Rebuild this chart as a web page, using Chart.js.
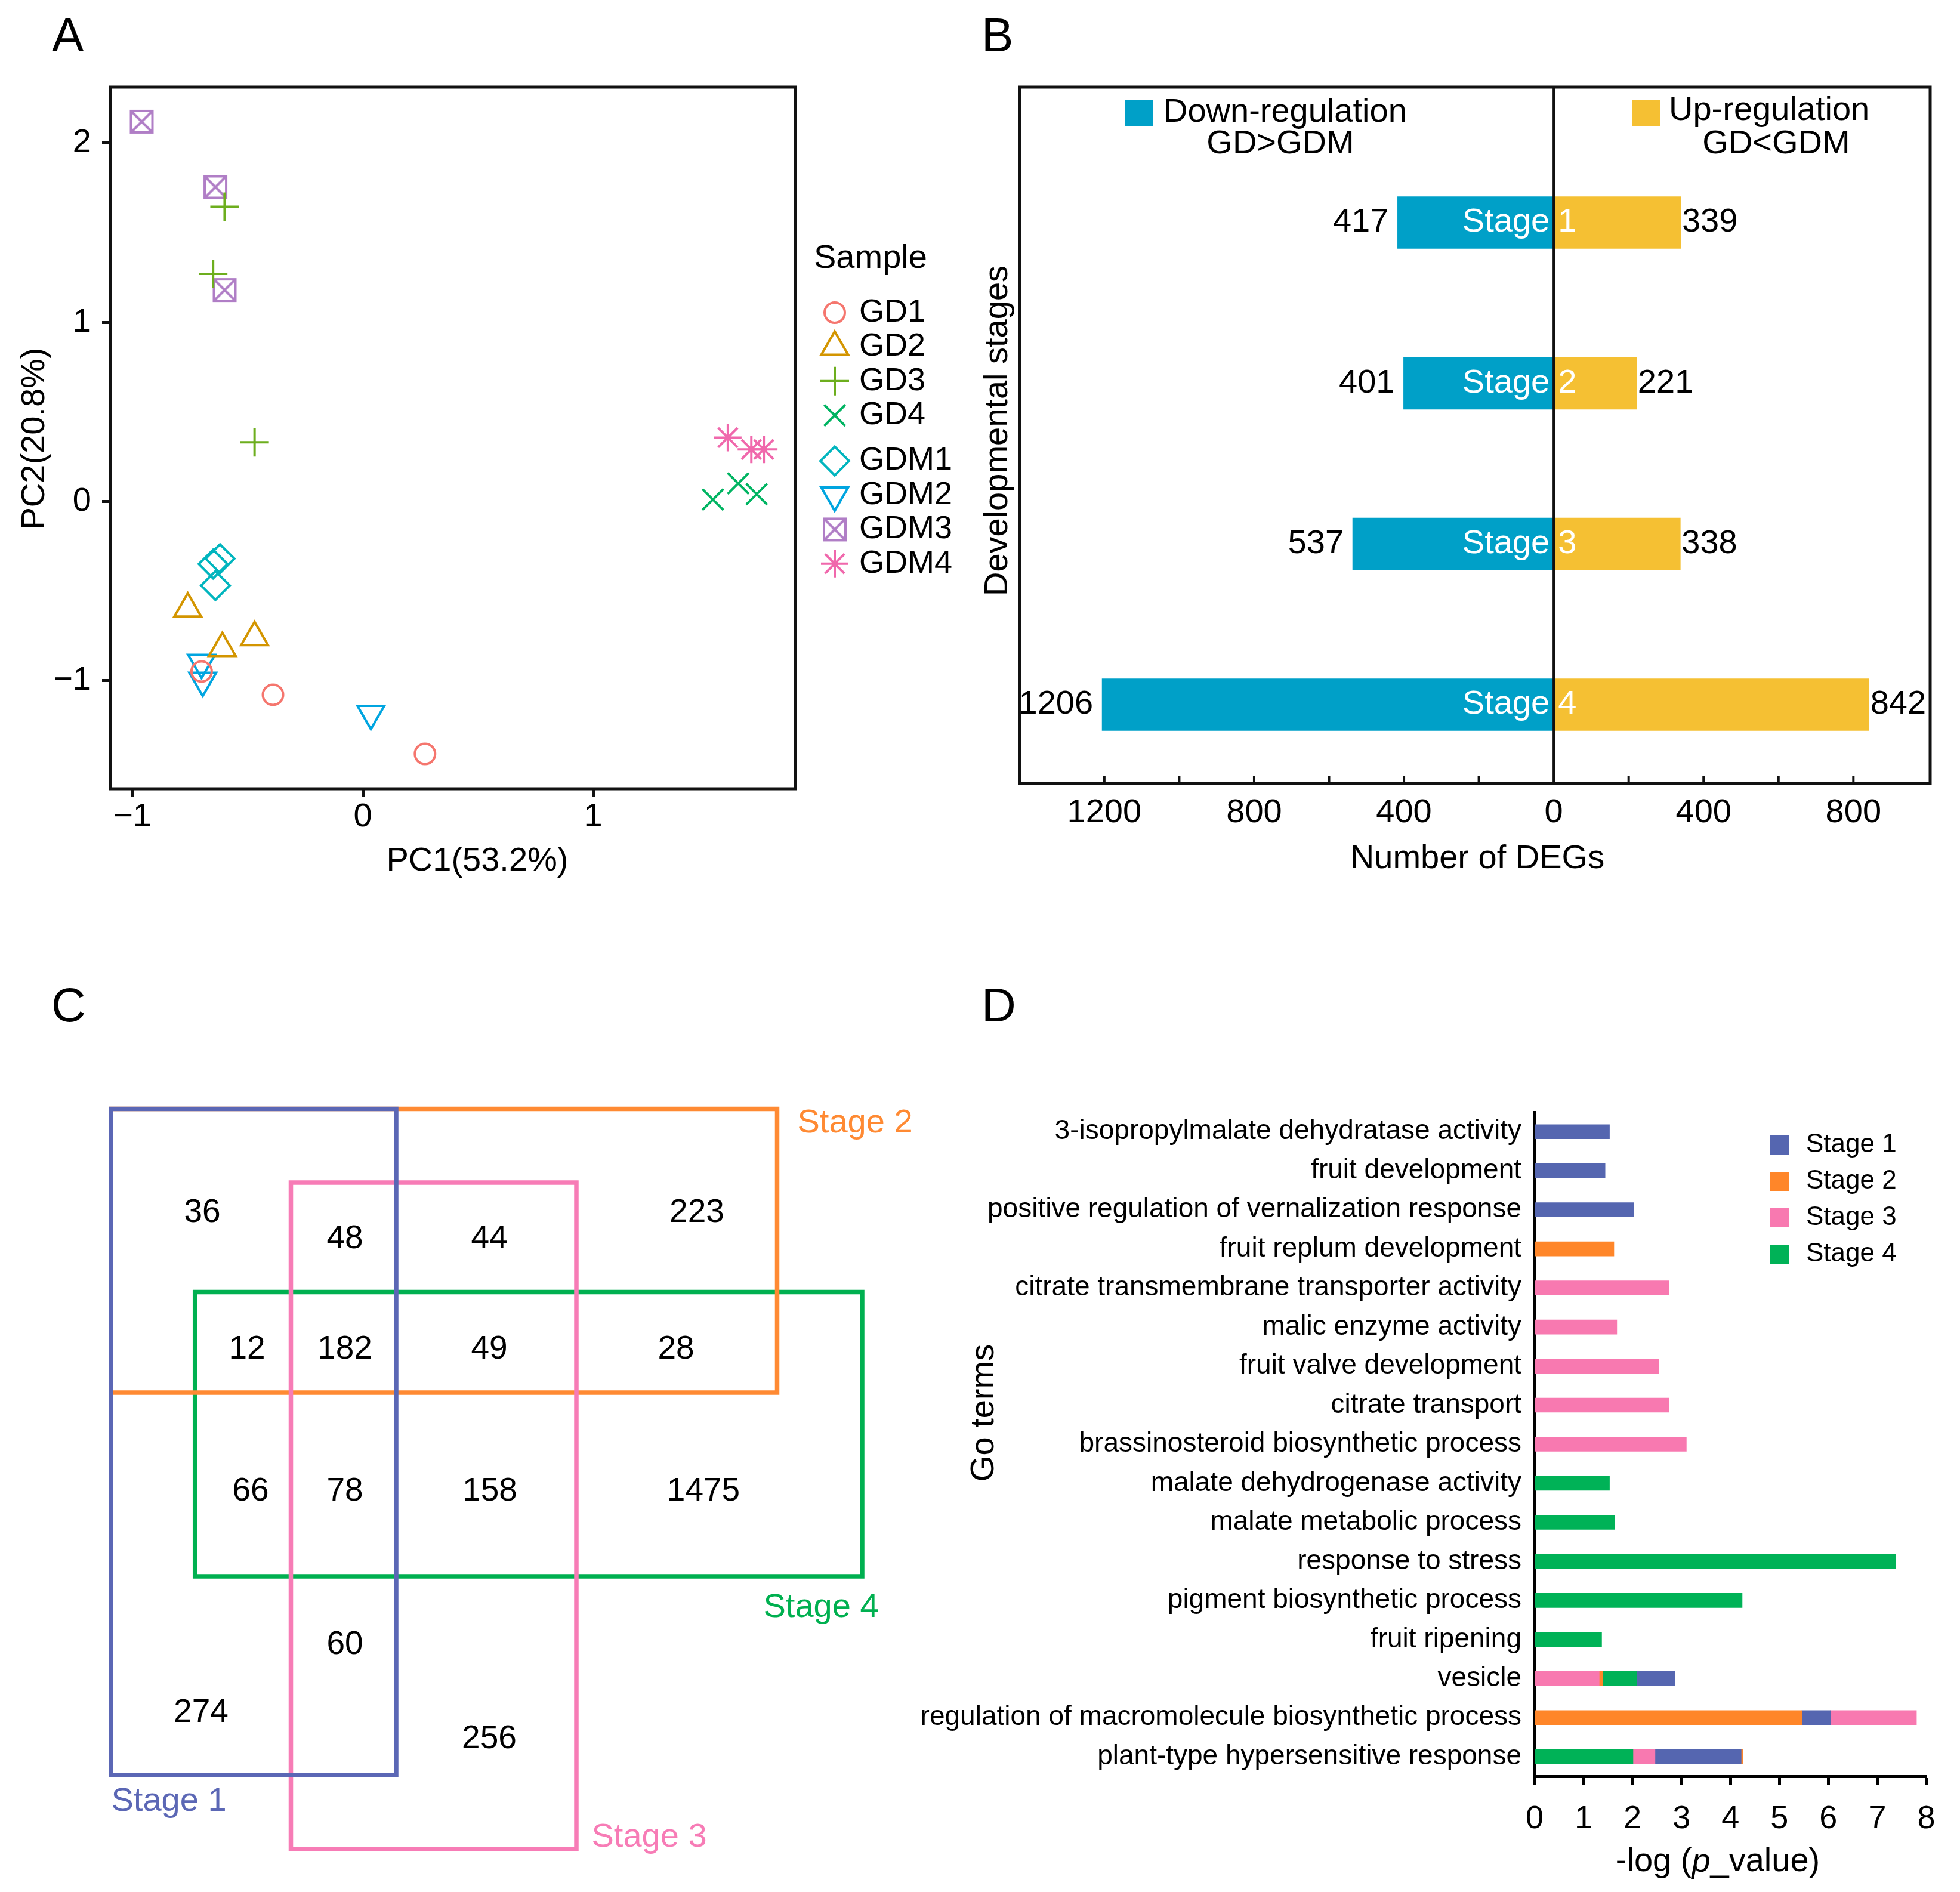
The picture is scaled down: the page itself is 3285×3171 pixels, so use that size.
<!DOCTYPE html>
<html lang="en">
<head>
<meta charset="UTF-8">
<title>PCA, DEGs, Venn and GO terms</title>
<script src="https://cdn.jsdelivr.net/npm/chart.js"></script>
<style>
    body { margin: 0; background: #fff; }
    #page { position: relative; width: 3285px; height: 3171px; background: #fff; overflow: hidden; }
    canvas { position: absolute; }
    .tag { position: absolute; font-family: 'Liberation Sans', Arial, sans-serif; font-size: 80px; line-height: 1; color: #000; }
</style>
</head>
<body>
<div id="page">
    <canvas id="pcaChart" style="left:0;top:0" width="1650" height="1500"></canvas>
    <canvas id="degChart" style="left:1600px;top:0" width="1685" height="1500"></canvas>
    <canvas id="vennChart" style="left:0;top:1600px" width="1650" height="1571"></canvas>
    <canvas id="goChart" style="left:1500px;top:1800px" width="1785" height="1371"></canvas>
    <div class="tag" style="left:87px;top:19px">A</div>
    <div class="tag" style="left:1645px;top:19px">B</div>
    <div class="tag" style="left:86px;top:1645px">C</div>
    <div class="tag" style="left:1645px;top:1645px">D</div>
</div>

<script>
    // ---- A: PCA ----
    const sampleNames = ['GD1', 'GD2', 'GD3', 'GD4', 'GDM1', 'GDM2', 'GDM3', 'GDM4'];
    const gd1PC1 = [-0.70, -0.39, 0.27];
    const gd1PC2 = [-0.95, -1.08, -1.41];
    const gd2PC1 = [-0.76, -0.61, -0.47];
    const gd2PC2 = [-0.60, -0.82, -0.76];
    const gd3PC1 = [-0.60, -0.65, -0.47];
    const gd3PC2 = [1.645, 1.27, 0.33];
    const gd4PC1 = [1.52, 1.63, 1.71];
    const gd4PC2 = [0.01, 0.10, 0.04];
    const gdm1PC1 = [-0.62, -0.65, -0.64];
    const gdm1PC2 = [-0.32, -0.35, -0.47];
    const gdm2PC1 = [-0.70, -0.695, 0.035];
    const gdm2PC2 = [-0.90, -1.00, -1.185];
    const gdm3PC1 = [-0.96, -0.64, -0.60];
    const gdm3PC2 = [2.12, 1.755, 1.18];
    const gdm4PC1 = [1.585, 1.687, 1.741];
    const gdm4PC2 = [0.356, 0.29, 0.29];

    // ---- B: DEGs per stage ----
    const stageNumbers = ['1', '2', '3', '4'];
    const stagePosition = [1, 2, 3, 4];
    const downCounts = [417, 401, 537, 1206];
    const upCounts = [339, 221, 338, 842];
    const degTicks = [-1200, -1000, -800, -600, -400, -200, 0, 200, 400, 600, 800];

    // ---- C: Venn boxes [x0, y0, x1, y1] in diagram units ----
    const stage1Box = [18.6, 25.85, 66.4, 137.5];
    const stage2Box = [18.6, 25.85, 130.25, 73.4];
    const stage3Box = [48.75, 38.2, 96.6, 149.9];
    const stage4Box = [32.67, 56.56, 144.5, 104.2];
    const vennCounts = ['36', '48', '44', '223', '12', '182', '49', '28', '66', '78', '158', '1475', '60', '274', '256'];
    const vennCountX = [33.9, 57.8, 82.0, 116.8, 41.4, 57.8, 82.0, 113.3, 42.0, 57.8, 82.1, 117.9, 57.8, 33.7, 82.0];
    const vennCountY = [43.3, 47.7, 47.7, 43.3, 66.2, 66.2, 66.2, 66.2, 90.0, 90.0, 90.0, 90.0, 115.7, 127.1, 131.5];
    const vennNames = ['Stage 1', 'Stage 2', 'Stage 3', 'Stage 4'];
    const vennNameX = [28.3, 143.3, 108.8, 137.6];
    const vennNameY = [142.0, 28.3, 148.0, 109.5];

    // ---- D: GO terms, stacked segments (stage, -log p) ----
    const goTerms = [
        '3-isopropylmalate dehydratase activity', 'fruit development',
        'positive regulation of vernalization response', 'fruit replum development',
        'citrate transmembrane transporter activity', 'malic enzyme activity',
        'fruit valve development', 'citrate transport', 'brassinosteroid biosynthetic process',
        'malate dehydrogenase activity', 'malate metabolic process', 'response to stress',
        'pigment biosynthetic process', 'fruit ripening', 'vesicle',
        'regulation of macromolecule biosynthetic process', 'plant-type hypersensitive response'
    ];
    const seg1Stage = [1, 1, 1, 2, 3, 3, 3, 3, 3, 4, 4, 4, 4, 4, 3, 2, 4];
    const seg1Value = [1.53, 1.44, 2.02, 1.62, 2.75, 1.68, 2.54, 2.75, 3.10, 1.53, 1.64, 7.37, 4.24, 1.37, 1.32, 5.46, 2.01];
    const seg2Stage = [0, 0, 0, 0, 0, 0, 0, 0, 0, 0, 0, 0, 0, 0, 2, 1, 3];
    const seg2Value = [null, null, null, null, null, null, null, null, null, null, null, null, null, null, 0.07, 0.58, 0.45];
    const seg3Stage = [0, 0, 0, 0, 0, 0, 0, 0, 0, 0, 0, 0, 0, 0, 4, 3, 1];
    const seg3Value = [null, null, null, null, null, null, null, null, null, null, null, null, null, null, 0.70, 1.76, 1.76];
    const seg4Stage = [0, 0, 0, 0, 0, 0, 0, 0, 0, 0, 0, 0, 0, 0, 1, 0, 2];
    const seg4Value = [null, null, null, null, null, null, null, null, null, null, null, null, null, null, 0.77, null, 0.03];
    const stageLegend = ['Stage 1', 'Stage 2', 'Stage 3', 'Stage 4'];

    const FONT = "'Liberation Sans', Arial, sans-serif";
    Chart.defaults.font.family = FONT;
    Chart.defaults.color = '#000';
    Chart.defaults.animation = false;
    Chart.defaults.responsive = false;
    Chart.defaults.devicePixelRatio = 1;
    Chart.defaults.plugins.legend.display = false;
    Chart.defaults.plugins.tooltip.enabled = false;

    function text(ctx, str, x, y, opt = {}) {
        ctx.save();
        ctx.font = `${opt.style || 'normal'} ${opt.size || 56}px ${FONT}`;
        ctx.fillStyle = opt.color || '#000';
        ctx.textAlign = opt.align || 'center';
        ctx.textBaseline = 'middle';
        if (opt.rotate) {
            ctx.translate(x, y);
            ctx.rotate(-Math.PI / 2);
            ctx.fillText(str, 0, 0);
        } else {
            ctx.fillText(str, x, y);
        }
        ctx.restore();
    }

    const framePlugin = {
        id: 'frame',
        afterDraw(chart) {
            const {ctx, chartArea: a} = chart;
            ctx.save();
            ctx.strokeStyle = '#111';
            ctx.lineWidth = 5;
            ctx.strokeRect(a.left, a.top, a.right - a.left, a.bottom - a.top);
            ctx.restore();
        }
    };

    const minus = v => (v < 0 ? '\u2212' + Math.abs(v) : String(v));

    // ---------- A ----------
    function boxedCross(color) {
        const c = document.createElement('canvas');
        c.width = 46;
        c.height = 46;
        const g = c.getContext('2d');
        g.strokeStyle = color;
        g.lineWidth = 4;
        g.strokeRect(5, 5, 36, 36);
        g.beginPath();
        g.moveTo(5, 5); g.lineTo(41, 41);
        g.moveTo(41, 5); g.lineTo(5, 41);
        g.stroke();
        return c;
    }

    const sampleColors = ['#F5766E', '#D39500', '#6DAE1E', '#00B462', '#00B5BE', '#00A5E0', '#B07EC6', '#F068AC'];
    const markers = [
        {style: 'circle', radius: 17, rotation: 0},
        {style: 'triangle', radius: 26, rotation: 0},
        {style: 'cross', radius: 24, rotation: 0},
        {style: 'crossRot', radius: 25, rotation: 0},
        {style: 'rectRot', radius: 24, rotation: 0},
        {style: 'triangle', radius: 26, rotation: 180},
        {style: boxedCross(sampleColors[6]), radius: 23, rotation: 0},
        {style: 'star', radius: 23, rotation: 0}
    ];
    const pcaX = [gd1PC1, gd2PC1, gd3PC1, gd4PC1, gdm1PC1, gdm2PC1, gdm3PC1, gdm4PC1];
    const pcaY = [gd1PC2, gd2PC2, gd3PC2, gd4PC2, gdm1PC2, gdm2PC2, gdm3PC2, gdm4PC2];

    const pcaLegend = {
        id: 'pcaLegend',
        afterDraw(chart) {
            const ctx = chart.ctx;
            text(ctx, 'Sample', 1364, 434, {align: 'left', size: 56});
            sampleNames.forEach((name, i) => {
                const y = 524 + i * 57.4 + (i >= 4 ? 19 : 0);
                ctx.save();
                ctx.strokeStyle = sampleColors[i];
                ctx.fillStyle = 'rgba(0,0,0,0)';
                ctx.lineWidth = 4;
                Chart.helpers.drawPoint(ctx, {
                    pointStyle: markers[i].style, rotation: markers[i].rotation,
                    radius: markers[i].radius, borderWidth: 4
                }, 1399, y);
                ctx.restore();
                text(ctx, name, 1440, y, {align: 'left', size: 54});
            });
            text(ctx, 'PC1(53.2%)', 800, 1444);
            text(ctx, 'PC2(20.8%)', 59, 735, {rotate: true});
        }
    };

    new Chart(document.getElementById('pcaChart'), {
        type: 'scatter',
        data: {
            datasets: sampleNames.map((name, i) => ({
                label: name,
                data: pcaX[i].map((x, j) => ({x, y: pcaY[i][j]})),
                pointStyle: markers[i].style,
                pointRotation: markers[i].rotation,
                pointRadius: markers[i].radius,
                pointBorderWidth: 4,
                borderColor: sampleColors[i],
                backgroundColor: 'rgba(0,0,0,0)'
            }))
        },
        options: {
            layout: {padding: {top: 146, right: 317, bottom: 0, left: 0}},
            scales: {
                x: {
                    type: 'linear', min: -1.096, max: 1.878,
                    afterFit: s => { s.height = 178; },
                    ticks: {stepSize: 1, includeBounds: false, font: {size: 56}, padding: 0, callback: minus},
                    grid: {drawOnChartArea: false, tickLength: 14, tickWidth: 5, tickColor: '#111'},
                    border: {display: false}
                },
                y: {
                    type: 'linear', min: -1.605, max: 2.313,
                    afterFit: s => { s.width = 185; },
                    ticks: {stepSize: 1, includeBounds: false, font: {size: 56}, padding: 18, callback: minus},
                    grid: {drawOnChartArea: false, tickLength: 14, tickWidth: 5, tickColor: '#111'},
                    border: {display: false}
                }
            }
        },
        plugins: [framePlugin, pcaLegend]
    });

    // ---------- B ----------
    const downColor = '#00A0C8';
    const upColor = '#F5C033';

    const degDecor = {
        id: 'degDecor',
        afterDatasetsDraw(chart) {
            const {ctx, chartArea: a, scales: {x}} = chart;
            ctx.save();
            ctx.strokeStyle = '#111';
            ctx.lineWidth = 4;
            x.ticks.forEach(t => {
                if (t.value === 0) return;
                const px = x.getPixelForValue(t.value);
                ctx.beginPath();
                ctx.moveTo(px, a.bottom);
                ctx.lineTo(px, a.bottom - 12);
                ctx.stroke();
            });
            const zero = x.getPixelForValue(0);
            ctx.beginPath();
            ctx.moveTo(zero, a.top);
            ctx.lineTo(zero, a.bottom);
            ctx.stroke();
            ctx.restore();

            chart.getDatasetMeta(0).data.forEach((bar, i) => {
                text(ctx, String(downCounts[i]), bar.x - 15, bar.y, {align: 'right'});
                text(ctx, 'Stage', bar.base - 7, bar.y, {align: 'right', color: '#fff'});
            });
            chart.getDatasetMeta(1).data.forEach((bar, i) => {
                text(ctx, String(upCounts[i]), bar.x + 2, bar.y, {align: 'left'});
                text(ctx, stageNumbers[i], bar.base + 7, bar.y, {align: 'left', color: '#fff'});
            });

            ctx.fillStyle = downColor;
            ctx.fillRect(286, 168, 47, 44);
            ctx.fillStyle = upColor;
            ctx.fillRect(1135, 168, 47, 44);
            text(ctx, 'Down-regulation', 350, 189, {align: 'left'});
            text(ctx, 'GD>GDM', 546, 242);
            text(ctx, 'Up-regulation', 1197, 186, {align: 'left'});
            text(ctx, 'GD<GDM', 1377, 242);
            text(ctx, 'Number of DEGs', 876, 1440);
            text(ctx, 'Developmental stages', 73, 722, {rotate: true});
        }
    };

    new Chart(document.getElementById('degChart'), {
        type: 'bar',
        data: {
            datasets: [
                {
                    label: 'Down-regulation',
                    data: stagePosition.map((p, i) => ({x: -downCounts[i], y: p})),
                    backgroundColor: downColor, barThickness: 87, borderWidth: 0
                },
                {
                    label: 'Up-regulation',
                    data: stagePosition.map((p, i) => ({x: upCounts[i], y: p})),
                    backgroundColor: upColor, barThickness: 87, borderWidth: 0
                }
            ]
        },
        options: {
            indexAxis: 'y',
            layout: {padding: {left: 109, top: 146, right: 50, bottom: 0}},
            scales: {
                x: {
                    type: 'linear', stacked: true, min: -1426, max: 1005,
                    afterFit: s => { s.height = 187; },
                    afterBuildTicks: s => { s.ticks = degTicks.map(v => ({value: v})); },
                    ticks: {
                        autoSkip: false, maxRotation: 0, font: {size: 56}, padding: 16,
                        callback: v => (v % 400 === 0 ? String(Math.abs(v)) : '')
                    },
                    grid: {display: false, drawTicks: false},
                    border: {display: false}
                },
                y: {
                    type: 'linear', stacked: true, reverse: true, offset: false,
                    min: 0.157, max: 4.49, display: false
                }
            }
        },
        plugins: [framePlugin, degDecor]
    });

    // ---------- C ----------
    const vennColors = ['#5B67B5', '#FF8A33', '#F77CB6', '#00B050'];
    const vennBoxes = [stage1Box, stage2Box, stage3Box, stage4Box];
    const vennOrder = [0, 2, 1, 3];
    const boxPath = b => [
        {x: b[0], y: b[1]}, {x: b[2], y: b[1]}, {x: b[2], y: b[3]}, {x: b[0], y: b[3]}, {x: b[0], y: b[1]}
    ];

    const vennText = {
        id: 'vennText',
        afterDatasetsDraw(chart) {
            const ctx = chart.ctx;
            chart.getDatasetMeta(4).data.forEach((pt, i) => text(ctx, vennCounts[i], pt.x, pt.y, {size: 55}));
            chart.getDatasetMeta(5).data.forEach((pt, i) => text(ctx, vennNames[i], pt.x, pt.y, {color: vennColors[i]}));
        }
    };

    new Chart(document.getElementById('vennChart'), {
        type: 'scatter',
        data: {
            datasets: [
                ...vennBoxes.map((b, i) => ({
                    label: vennNames[i],
                    data: boxPath(b),
                    showLine: true,
                    pointRadius: 0,
                    borderColor: vennColors[i],
                    borderWidth: 7.5,
                    borderCapStyle: 'square',
                    borderJoinStyle: 'miter',
                    order: vennOrder[i]
                })),
                {label: 'counts', data: vennCountX.map((x, i) => ({x, y: vennCountY[i]})), pointRadius: 0, order: 10},
                {label: 'names', data: vennNameX.map((x, i) => ({x, y: vennNameY[i]})), pointRadius: 0, order: 11}
            ]
        },
        options: {
            layout: {padding: 0},
            scales: {
                x: {type: 'linear', min: 0, max: 165, display: false},
                y: {type: 'linear', min: 0, max: 157.1, reverse: true, display: false}
            }
        },
        plugins: [vennText]
    });

    // ---------- D ----------
    const stageColors = ['#5566B0', '#FF8629', '#F879B0', '#00B257'];
    const goLayers = [
        {stage: seg1Stage, value: seg1Value},
        {stage: seg2Stage, value: seg2Value},
        {stage: seg3Stage, value: seg3Value},
        {stage: seg4Stage, value: seg4Value}
    ];

    const goDecor = {
        id: 'goDecor',
        afterDraw(chart) {
            const ctx = chart.ctx;
            stageLegend.forEach((name, i) => {
                const y = 119 + i * 61;
                ctx.fillStyle = stageColors[i];
                ctx.fillRect(1466, y - 16, 33, 32);
                text(ctx, name, 1527, y, {align: 'left', size: 44});
            });
            text(ctx, 'Go terms', 150, 568, {rotate: true});
            const runs = [
                {t: '-log (', style: 'normal'},
                {t: 'p', style: 'italic'},
                {t: '_value)', style: 'normal'}
            ];
            ctx.save();
            let total = 0;
            runs.forEach(r => {
                ctx.font = `${r.style} 56px ${FONT}`;
                r.w = ctx.measureText(r.t).width;
                total += r.w;
            });
            let x = 1379 - total / 2;
            ctx.fillStyle = '#000';
            ctx.textAlign = 'left';
            ctx.textBaseline = 'middle';
            runs.forEach(r => {
                ctx.font = `${r.style} 56px ${FONT}`;
                ctx.fillText(r.t, x, 1321);
                x += r.w;
            });
            ctx.restore();
        }
    };

    new Chart(document.getElementById('goChart'), {
        type: 'bar',
        data: {
            labels: goTerms,
            datasets: goLayers.map((layer, k) => ({
                label: 'segment ' + (k + 1),
                data: layer.value,
                backgroundColor: layer.stage.map(s => (s ? stageColors[s - 1] : 'rgba(0,0,0,0)')),
                borderWidth: 0,
                barThickness: 24
            }))
        },
        options: {
            indexAxis: 'y',
            layout: {padding: {top: 64, right: 56.5, left: 0, bottom: 0}},
            scales: {
                x: {
                    stacked: true, min: 0, max: 8,
                    afterFit: s => { s.height = 194; },
                    ticks: {stepSize: 1, font: {size: 54}, padding: 25, maxRotation: 0},
                    grid: {drawOnChartArea: false, tickLength: 15, tickWidth: 5, tickColor: '#000'},
                    border: {width: 5, color: '#000'}
                },
                y: {
                    stacked: true,
                    afterFit: s => { s.width = 1072; },
                    ticks: {font: {size: 46}, padding: 22, autoSkip: false},
                    grid: {display: false, drawTicks: false},
                    border: {width: 5, color: '#000'}
                }
            }
        },
        plugins: [goDecor]
    });
</script>
</body>
</html>
